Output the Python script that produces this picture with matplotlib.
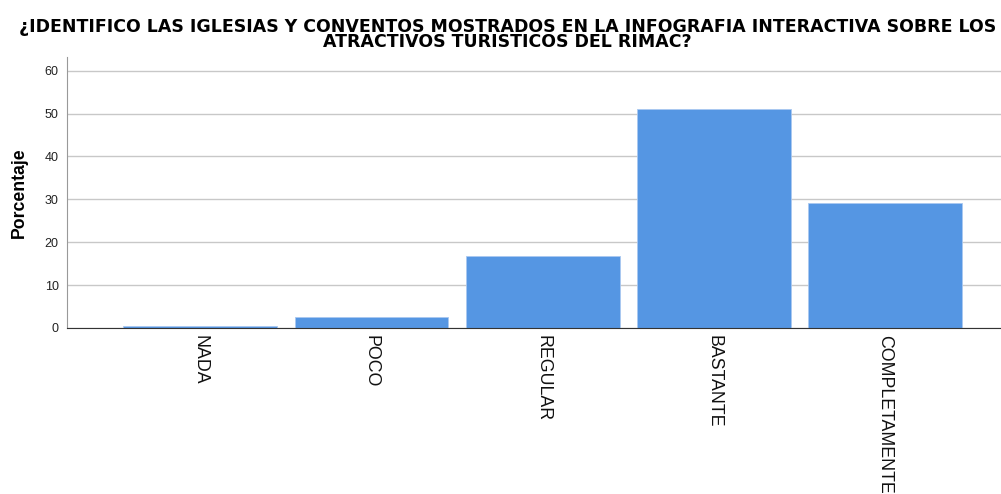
import matplotlib.pyplot as plt
import numpy as np

plt.rcParams['font.family'] = ['Liberation Sans', 'DejaVu Sans']

# datos
categorias = ['NADA', 'POCO', 'REGULAR', 'BASTANTE', 'COMPLETAMENTE']
porcentaje = [0.4, 2.6, 16.8, 51.0, 29.1]
yticks = [0, 10, 20, 30, 40, 50, 60]
titulo = '¿IDENTIFICO LAS IGLESIAS Y CONVENTOS MOSTRADOS EN LA INFOGRAFIA INTERACTIVA SOBRE LOS\nATRACTIVOS TURISTICOS DEL RIMAC?'

fig = plt.figure(figsize=(10.01, 4.94), dpi=100)
ax = fig.add_axes([67 / 1001, 166 / 494, 934 / 1001, 271 / 494])

x = np.arange(len(categorias))
ax.bar(x, porcentaje, width=0.9, color='#5596e3', edgecolor='#a9c8f0', linewidth=0.6, zorder=3)

ax.set_xlim(-0.78, 4.68)
ax.set_ylim(0, 63.2)
ax.set_yticks(yticks)
ax.set_xticks(x)
ax.set_xticklabels(categorias, rotation=-90, fontsize=12.8, va='top', ha='center', color='#111111')
ax.tick_params(axis='y', length=0, pad=6, labelsize=9, colors='#222222')
ax.tick_params(axis='x', length=0, pad=5)
ax.yaxis.grid(True, color='#c8c8c8', linewidth=1, zorder=0)
ax.set_axisbelow(True)

for s in ['top', 'right']:
    ax.spines[s].set_visible(False)
ax.spines['left'].set_color('#999999')
ax.spines['bottom'].set_color('#333333')
ax.spines['bottom'].set_zorder(4)

ax.set_ylabel('Porcentaje', fontsize=12.7, fontweight='bold', labelpad=12)
fig.text(0.507, 1 - 18 / 494, titulo, ha='center', va='top', fontsize=12.5, fontweight='bold',
         family='DejaVu Sans', linespacing=0.78)

fig.savefig('out.png', dpi=100)
